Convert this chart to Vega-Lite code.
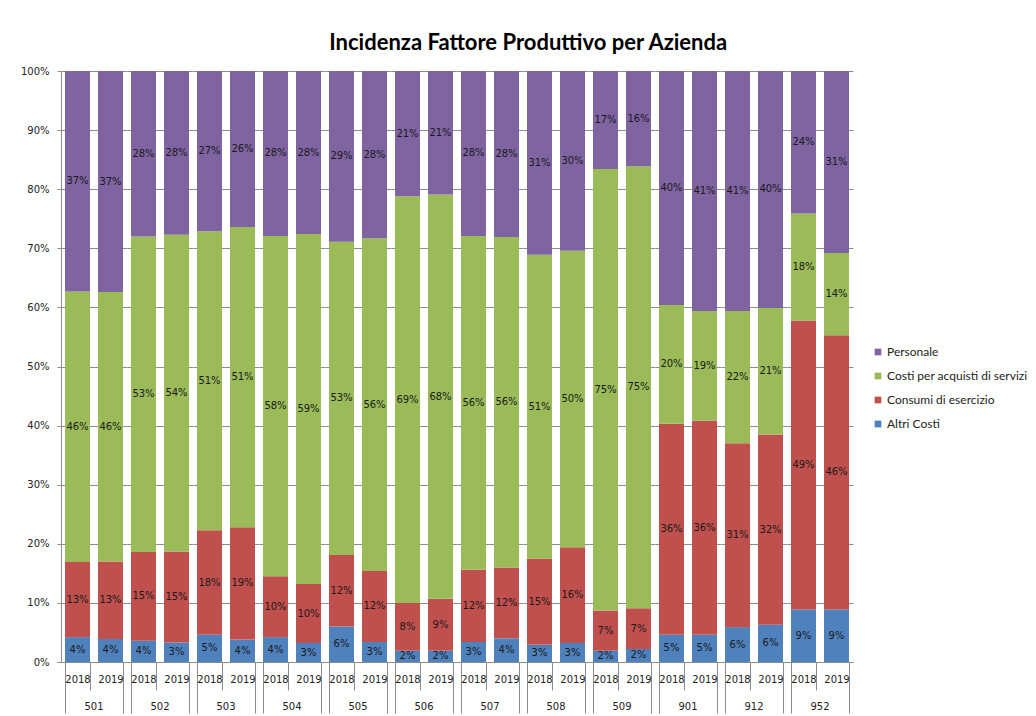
{
  "$schema": "https://vega.github.io/schema/vega-lite/v6.json",
  "background": "white",
  "padding": {"left": 20, "top": 32, "right": 6, "bottom": 0},
  "title": {"text": "Incidenza Fattore Produttivo per Azienda", "font": "Lato", "fontSize": 22, "fontWeight": "bold", "color": "#000000", "anchor": "middle", "frame": "bounds", "offset": 11, "dx": 4},
  "data": {"values": [
    {"azienda": "501", "anno": "2018", "Altri Costi": 0.042, "Consumi di esercizio": 0.127, "Costi per acquisti di servizi": 0.458, "Personale": 0.373},
    {"azienda": "501", "anno": "2019", "Altri Costi": 0.039, "Consumi di esercizio": 0.131, "Costi per acquisti di servizi": 0.456, "Personale": 0.374},
    {"azienda": "502", "anno": "2018", "Altri Costi": 0.036, "Consumi di esercizio": 0.150, "Costi per acquisti di servizi": 0.534, "Personale": 0.280},
    {"azienda": "502", "anno": "2019", "Altri Costi": 0.033, "Consumi di esercizio": 0.154, "Costi per acquisti di servizi": 0.536, "Personale": 0.277},
    {"azienda": "503", "anno": "2018", "Altri Costi": 0.046, "Consumi di esercizio": 0.177, "Costi per acquisti di servizi": 0.506, "Personale": 0.271},
    {"azienda": "503", "anno": "2019", "Altri Costi": 0.038, "Consumi di esercizio": 0.190, "Costi per acquisti di servizi": 0.508, "Personale": 0.264},
    {"azienda": "504", "anno": "2018", "Altri Costi": 0.042, "Consumi di esercizio": 0.103, "Costi per acquisti di servizi": 0.576, "Personale": 0.279},
    {"azienda": "504", "anno": "2019", "Altri Costi": 0.032, "Consumi di esercizio": 0.100, "Costi per acquisti di servizi": 0.592, "Personale": 0.276},
    {"azienda": "505", "anno": "2018", "Altri Costi": 0.060, "Consumi di esercizio": 0.121, "Costi per acquisti di servizi": 0.530, "Personale": 0.289},
    {"azienda": "505", "anno": "2019", "Altri Costi": 0.034, "Consumi di esercizio": 0.120, "Costi per acquisti di servizi": 0.563, "Personale": 0.283},
    {"azienda": "506", "anno": "2018", "Altri Costi": 0.019, "Consumi di esercizio": 0.081, "Costi per acquisti di servizi": 0.688, "Personale": 0.212},
    {"azienda": "506", "anno": "2019", "Altri Costi": 0.019, "Consumi di esercizio": 0.088, "Costi per acquisti di servizi": 0.684, "Personale": 0.209},
    {"azienda": "507", "anno": "2018", "Altri Costi": 0.034, "Consumi di esercizio": 0.122, "Costi per acquisti di servizi": 0.565, "Personale": 0.279},
    {"azienda": "507", "anno": "2019", "Altri Costi": 0.040, "Consumi di esercizio": 0.120, "Costi per acquisti di servizi": 0.559, "Personale": 0.281},
    {"azienda": "508", "anno": "2018", "Altri Costi": 0.029, "Consumi di esercizio": 0.146, "Costi per acquisti di servizi": 0.514, "Personale": 0.311},
    {"azienda": "508", "anno": "2019", "Altri Costi": 0.032, "Consumi di esercizio": 0.162, "Costi per acquisti di servizi": 0.502, "Personale": 0.304},
    {"azienda": "509", "anno": "2018", "Altri Costi": 0.019, "Consumi di esercizio": 0.068, "Costi per acquisti di servizi": 0.747, "Personale": 0.166},
    {"azienda": "509", "anno": "2019", "Altri Costi": 0.022, "Consumi di esercizio": 0.069, "Costi per acquisti di servizi": 0.748, "Personale": 0.161},
    {"azienda": "901", "anno": "2018", "Altri Costi": 0.046, "Consumi di esercizio": 0.357, "Costi per acquisti di servizi": 0.201, "Personale": 0.396},
    {"azienda": "901", "anno": "2019", "Altri Costi": 0.046, "Consumi di esercizio": 0.362, "Costi per acquisti di servizi": 0.186, "Personale": 0.406},
    {"azienda": "912", "anno": "2018", "Altri Costi": 0.059, "Consumi di esercizio": 0.311, "Costi per acquisti di servizi": 0.224, "Personale": 0.406},
    {"azienda": "912", "anno": "2019", "Altri Costi": 0.063, "Consumi di esercizio": 0.322, "Costi per acquisti di servizi": 0.214, "Personale": 0.401},
    {"azienda": "952", "anno": "2018", "Altri Costi": 0.089, "Consumi di esercizio": 0.489, "Costi per acquisti di servizi": 0.181, "Personale": 0.241},
    {"azienda": "952", "anno": "2019", "Altri Costi": 0.089, "Consumi di esercizio": 0.464, "Costi per acquisti di servizi": 0.139, "Personale": 0.308}
  ]},
  "transform": [
    {"fold": ["Altri Costi", "Consumi di esercizio", "Costi per acquisti di servizi", "Personale"], "as": ["voce", "quota"]},
    {"stack": "quota", "groupby": ["azienda", "anno"], "sort": [{"field": "voce", "order": "ascending"}], "as": ["y0", "y1"], "offset": "normalize"},
    {"calculate": "(datum.y0 + datum.y1) / 2", "as": "ymid"}
  ],
  "facet": {
    "column": {
      "field": "azienda", "type": "nominal", "title": null,
      "header": {"labelOrient": "bottom", "labelFont": "DejaVu Sans", "labelFontSize": 10, "labelColor": "#222222", "labelPadding": -12}
    }
  },
  "spacing": 0,
  "spec": {
    "width": 66,
    "height": 591,
    "encoding": {
      "x": {
        "field": "anno", "type": "nominal", "title": null,
        "scale": {"paddingInner": 0.2424, "paddingOuter": 0.1212},
        "axis": {
          "labelAngle": 0, "labelFont": "DejaVu Sans", "labelFontSize": 10, "labelColor": "#222222",
          "tickBand": "extent",
          "tickSize": {"condition": {"test": "datum.value !== '2018'", "value": 51}, "value": 28},
          "labelPadding": {"condition": {"test": "datum.value !== '2018'", "value": -39}, "value": -16},
          "tickColor": "#8c8c8c", "domainColor": "#8c8c8c", "grid": false
        }
      }
    },
    "layer": [
      {
        "mark": {"type": "bar"},
        "encoding": {
          "y": {"field": "y0", "type": "quantitative", "title": null,
                "scale": {"domain": [0, 1], "nice": false},
                "axis": {"values": [0, 0.1, 0.2, 0.3, 0.4, 0.5, 0.6, 0.7, 0.8, 0.9, 1], "format": ".0%",
                         "labelFont": "DejaVu Sans", "labelFontSize": 10, "labelColor": "#222222",
                         "tickSize": 4, "labelPadding": 8, "tickColor": "#8c8c8c", "domainColor": "#8c8c8c",
                         "gridColor": "#8c8c8c", "gridOpacity": 1}},
          "y2": {"field": "y1"},
          "color": {
            "field": "voce", "type": "nominal", "title": null,
            "scale": {"domain": ["Personale", "Costi per acquisti di servizi", "Consumi di esercizio", "Altri Costi"],
                      "range": ["#8064A2", "#9BBB59", "#C0504D", "#4F81BD"]},
            "legend": {"orient": "none", "legendX": 811, "legendY": 275, "symbolType": "square", "symbolSize": 45,
                       "labelFont": "Lato", "labelFontSize": 12, "labelColor": "#222222", "rowPadding": 12, "labelOffset": 3, "symbolStrokeWidth": 0}
          }
        }
      },
      {
        "mark": {"type": "text", "font": "DejaVu Sans", "fontSize": 10, "color": "#1a1a1a"},
        "encoding": {
          "y": {"field": "ymid", "type": "quantitative"},
          "text": {"field": "quota", "type": "quantitative", "format": ".0%"}
        }
      }
    ]
  },
  "config": {"view": {"stroke": null}}
}
